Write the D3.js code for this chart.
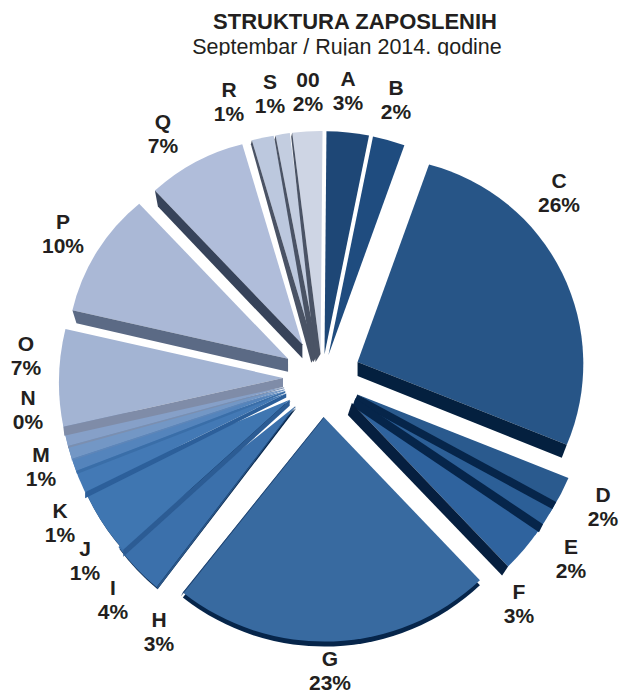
<!DOCTYPE html>
<html><head><meta charset="utf-8">
<script src="https://cdn.jsdelivr.net/npm/d3@7"></script>
<style>html,body{margin:0;padding:0;background:#fff}svg{display:block}text{font-family:"Liberation Sans",Arial,sans-serif;fill:#231f20}</style>
</head><body><svg id="c" width="620" height="695"></svg>
<script>
const titleText = "STRUKTURA ZAPOSLENIH";
const subtitleText = "Septembar / Rujan 2014. godine";
const categories = ["A","B","C","D","E","F","G","H","I","J","K","M","N","O","P","Q","R","S","00"];
const shares = [3.06,2.33,25.47,1.89,1.53,3.44,22.92,2.56,4.42,1.44,0.78,0.81,0.75,7.0,9.31,7.53,1.58,1.03,2.17];
const percentLabels = ["3%","2%","26%","2%","2%","3%","23%","3%","4%","1%","1%","1%","0%","7%","10%","7%","1%","1%","2%"];
const faceColors = ["#1e4776","#1f4c7f","#275587","#2a5a8e","#2c5f97","#2f639e","#386aa0","#3b70ab","#3f76b1","#4379b5","#5484bc","#7397c5","#86a0c8","#a3b4d3","#aab8d6","#b0bdda","#bcc8de","#c3cde0","#ced5e4"];
const sideColors = ["#1e4776","#1f4c7f","#04203f","#06254a","#06254a","#061f3f","#1d3f6b","#2a5688","#2c5c94","#2c5f9a","#3a6ea8","#5f86b8","#7b8fb0","#7f8ca8","#5b6a85","#37435a","#4a5365","#4a5365","#4a5365"];
const nearCats = new Set(["A","B","R","S","00"]);
const extended = new Set(["D","E","H","I","J","K","M","N"]);
// side band: [apex dx, apex dy, rim dx, rim dy]
const bands = {A:[0,0,0,0],B:[0,0,0,0],C:[0,14,-5,13],D:[-3,7,-4,7],E:[-3,8,-4,8],F:[-4,12,-6,9],G:[0,1,-2,4],
 H:[0,1,1,2],I:[0,6,0,7],J:[0,4,0,6],K:[0,2,1,3],M:[0,1,0,1.5],N:[0,1,0,2],O:[0,9,1,9],P:[0,13,4,13],Q:[0,14,3,16],
 R:[-5,8,-1,4],S:[-5,8,-1,4],"00":[-5,8,-1,4]};
// rim: [radius at start, radius at end, arc curvature radius]
const rims = {A:[223,223,223],B:[223,223,223],C:[210,225,206],D:[227,226,226],E:[226,226,226],F:[226,226,226],G:[226,225,228],
 H:[228,226,226],I:[224,224,224],J:[224,224,224],K:[224,224,224],M:[224,224,224],N:[224,224,224],O:[225,223,225],P:[221,215,195],Q:[213,209,200],
 R:[224,223,223],S:[223,223,223],"00":[223,223,223]};
const rimShade = {G:[0,5],H:[1,2],I:[1,1.5]};
const startTrim = {H:1.3};
const labelLayout = {A:[348,78],B:[396,87],C:[559,180],D:[603,494],E:[571,546],F:[519,591],G:[330,658],H:[159,619],I:[113,587],J:[85,548],K:[60,510],M:[41,454],N:[28,397],O:[26,343],P:[63,221],Q:[163,121],R:[229,89],S:[270,81],"00":[308,79]};

const svg = d3.select("#c");
const cx = 322, cy = 378, deg = Math.PI/180;
const startA = 0.5*deg, extra = 3.5*deg;
const pie = d3.pie().sort(null).value((d,i)=>shares[i]).startAngle(startA).endAngle(startA+2*Math.PI);
const arcs = pie(categories);
const offset = d => d3.pointRadial((d.startAngle+d.endAngle)/2, nearCats.has(d.data)?24:39);
const drawnStart = d => d.startAngle-(startTrim[d.data]||0)*deg;
const face = d => {
  const o=offset(d), r=rims[d.data];
  const end=d.endAngle+(extended.has(d.data)?extra:0);
  const p0=d3.pointRadial(drawnStart(d),r[0]), p1=d3.pointRadial(end,r[1]);
  return `M${o[0]},${o[1]}L${o[0]+p0[0]},${o[1]+p0[1]}A${r[2]},${r[2]} 0 0 1 ${o[0]+p1[0]},${o[1]+p1[1]}Z`;
};
const g = svg.append("g").attr("transform",`translate(${cx},${cy})`);

g.selectAll("path.rim").data(arcs.filter(d=>rimShade[d.data])).join("path").attr("class","rim")
 .attr("d",face).attr("fill","#06254a")
 .attr("transform",d=>`translate(${rimShade[d.data]})`);

g.selectAll("path.face").data(arcs).join("path").attr("class","face")
 .attr("d",face).attr("fill",(d,i)=>faceColors[i]);

const line = d3.line();
g.selectAll("path.side").data(arcs).join("path").attr("class","side")
 .attr("fill",(d,i)=>sideColors[i])
 .attr("d",d=>{
   const mid=(d.startAngle+d.endAngle)/2, first= mid>=Math.PI;
   const o=offset(d), r=rims[d.data];
   const rim=d3.pointRadial(first?drawnStart(d):d.endAngle, first?r[0]:r[1]), b=bands[d.data];
   return line([[o[0],o[1]],[o[0]+rim[0],o[1]+rim[1]],[o[0]+rim[0]+b[2],o[1]+rim[1]+b[3]],[o[0]+b[0],o[1]+b[1]]])+"Z";
 });

const lab = svg.selectAll("g.lab").data(arcs).join("g").attr("class","lab")
 .attr("transform",d=>`translate(${labelLayout[d.data]})`);
lab.append("text").attr("text-anchor","middle").attr("dy",7.5).attr("font-size",21).attr("font-weight",700).text(d=>d.data);
lab.append("text").attr("text-anchor","middle").attr("dy",32).attr("font-size",21).attr("font-weight",700).text((d,i)=>percentLabels[i]);

svg.append("text").attr("x",355).attr("y",29).attr("text-anchor","middle").attr("font-size",22).attr("font-weight",700).text(titleText);
svg.append("text").attr("x",347).attr("y",54).attr("text-anchor","middle").attr("font-size",21.5).text(subtitleText);
svg.append("rect").attr("x",180).attr("y",55.5).attr("width",350).attr("height",8).attr("fill","#fff");
</script></body></html>
